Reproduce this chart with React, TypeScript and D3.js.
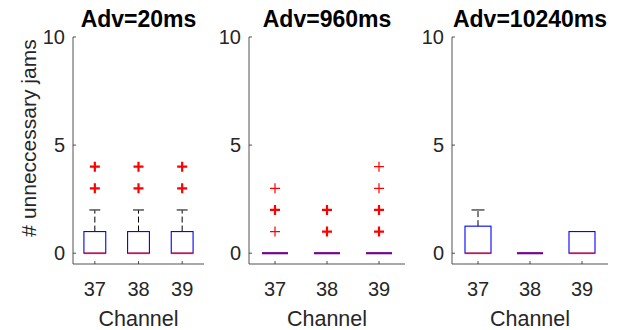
import { useEffect, useRef } from 'react';
import * as d3 from 'd3';

// box plot summaries
const titles = ['Adv=20ms', 'Adv=960ms', 'Adv=10240ms'];
const channels = ['37', '38', '39'];
const q1 = [[0, 0, 0], [0, 0, 0], [0, 0, 0]];
const medians = [[0, 0, 0], [0, 0, 0], [0, 0, 0]];
const q3 = [[1, 1, 1], [0, 0, 0], [1.25, 0, 1]];
const whiskerHi = [[2, 2, 2], [0, 0, 0], [2, 0, 1]];
// repeated values = several runs with the same count
const outliers = [
  [[3, 3, 4, 4], [3, 3, 4, 4], [3, 3, 4, 4]],
  [[1, 2, 2, 3], [1, 1, 2, 2], [1, 1, 2, 2, 3, 4]],
  [[], [], []],
];
const yTicks = [0, 5, 10];

const W = 618;
const H = 330;
const font = 'Liberation Sans, Arial, Helvetica, sans-serif';
const axisColor = '#262626';

const App = () => {
  const svgRef = useRef<SVGSVGElement | null>(null);

  useEffect(() => {
    const svg = d3.select(svgRef.current);
    svg.selectAll('*').remove();

    const panelX = [[73, 204], [249, 405], [452, 608]];
    const y = d3.scaleLinear().domain([-0.5, 10]).range([264, 37]);

    titles.forEach((title, p) => {
      const x = d3.scaleLinear().domain([0.5, 3.5]).range(panelX[p]);
      const g = svg.append('g');
      const [x0, x1] = panelX[p];

      // axes
      g.append('line')
        .attr('x1', x0).attr('x2', x0)
        .attr('y1', y(10)).attr('y2', y(-0.5))
        .attr('stroke', axisColor).attr('stroke-width', 0.8);
      g.append('line')
        .attr('x1', x0).attr('x2', x1)
        .attr('y1', y(-0.5)).attr('y2', y(-0.5))
        .attr('stroke', axisColor).attr('stroke-width', 0.8);

      yTicks.forEach(t => {
        g.append('line')
          .attr('x1', x0).attr('x2', x0 + 3)
          .attr('y1', y(t)).attr('y2', y(t))
          .attr('stroke', axisColor).attr('stroke-width', 0.8);
        g.append('text')
          .attr('x', x0 - 8).attr('y', y(t) + 7)
          .attr('text-anchor', 'end')
          .attr('font-family', font).attr('font-size', 20)
          .attr('fill', axisColor)
          .text(t);
      });

      channels.forEach((c, i) => {
        const cx = x(i + 1);
        g.append('line')
          .attr('x1', cx).attr('x2', cx)
          .attr('y1', y(-0.5)).attr('y2', y(-0.5) - 3)
          .attr('stroke', axisColor).attr('stroke-width', 0.8);
        g.append('text')
          .attr('x', cx).attr('y', 296)
          .attr('text-anchor', 'middle')
          .attr('font-family', font).attr('font-size', 20)
          .attr('fill', axisColor)
          .text(c);
      });

      g.append('text')
        .attr('x', (x0 + x1) / 2).attr('y', 326)
        .attr('text-anchor', 'middle')
        .attr('font-family', font).attr('font-size', 21.5)
        .attr('fill', axisColor)
        .text('Channel');

      g.append('text')
        .attr('x', (x0 + x1) / 2).attr('y', 27)
        .attr('text-anchor', 'middle')
        .attr('font-family', font).attr('font-size', 23)
        .attr('font-weight', 'bold')
        .attr('fill', '#000')
        .text(title);

      // boxes
      channels.forEach((_, i) => {
        const cx = x(i + 1);
        const bw = x(1.25) - x(1);
        const cw = x(1.125) - x(1);
        const lo = q1[p][i];
        const hi = q3[p][i];
        const wh = whiskerHi[p][i];

        if (wh > hi) {
          g.append('line')
            .attr('x1', cx).attr('x2', cx)
            .attr('y1', y(hi)).attr('y2', y(wh))
            .attr('stroke', '#000').attr('stroke-width', 1)
            .attr('stroke-dasharray', '6,3');
          g.append('line')
            .attr('x1', cx - cw).attr('x2', cx + cw)
            .attr('y1', y(wh)).attr('y2', y(wh))
            .attr('stroke', '#555').attr('stroke-width', 1.5);
        }

        if (hi > lo) {
          g.append('rect')
            .attr('x', cx - bw).attr('y', y(hi))
            .attr('width', bw * 2).attr('height', y(lo) - y(hi))
            .attr('fill', 'none')
            .attr('stroke', '#0000ff').attr('stroke-width', 1.1);
        } else {
          g.append('line')
            .attr('x1', cx - bw).attr('x2', cx + bw)
            .attr('y1', y(lo)).attr('y2', y(lo))
            .attr('stroke', '#0000ff').attr('stroke-width', 2);
        }

        g.append('line')
          .attr('x1', cx - bw).attr('x2', cx + bw)
          .attr('y1', y(medians[p][i])).attr('y2', y(medians[p][i]))
          .attr('stroke', '#ff0000').attr('stroke-width', 2)
          .attr('stroke-opacity', 0.5);

        const counts = d3.rollup(outliers[p][i], v => v.length, d => d);
        counts.forEach((n, v) => {
          const sw = n > 1 ? 2.2 : 1.2;
          const s = 5;
          g.append('path')
            .attr('d', `M${cx - s},${y(v)}H${cx + s}M${cx},${y(v) - s}V${y(v) + s}`)
            .attr('stroke', '#ff0000').attr('stroke-width', sw)
            .attr('fill', 'none');
        });
      });
    });

    svg.append('text')
      .attr('transform', 'translate(36,138) rotate(-90)')
      .attr('text-anchor', 'middle')
      .attr('font-family', font).attr('font-size', 21)
      .attr('fill', axisColor)
      .text('# unneccessary jams');
  }, []);

  return (
    <svg ref={svgRef} width={W} height={H}
      style={{ position: 'absolute', left: 0, top: 0, background: '#fff' }} />
  );
};

export default App;
